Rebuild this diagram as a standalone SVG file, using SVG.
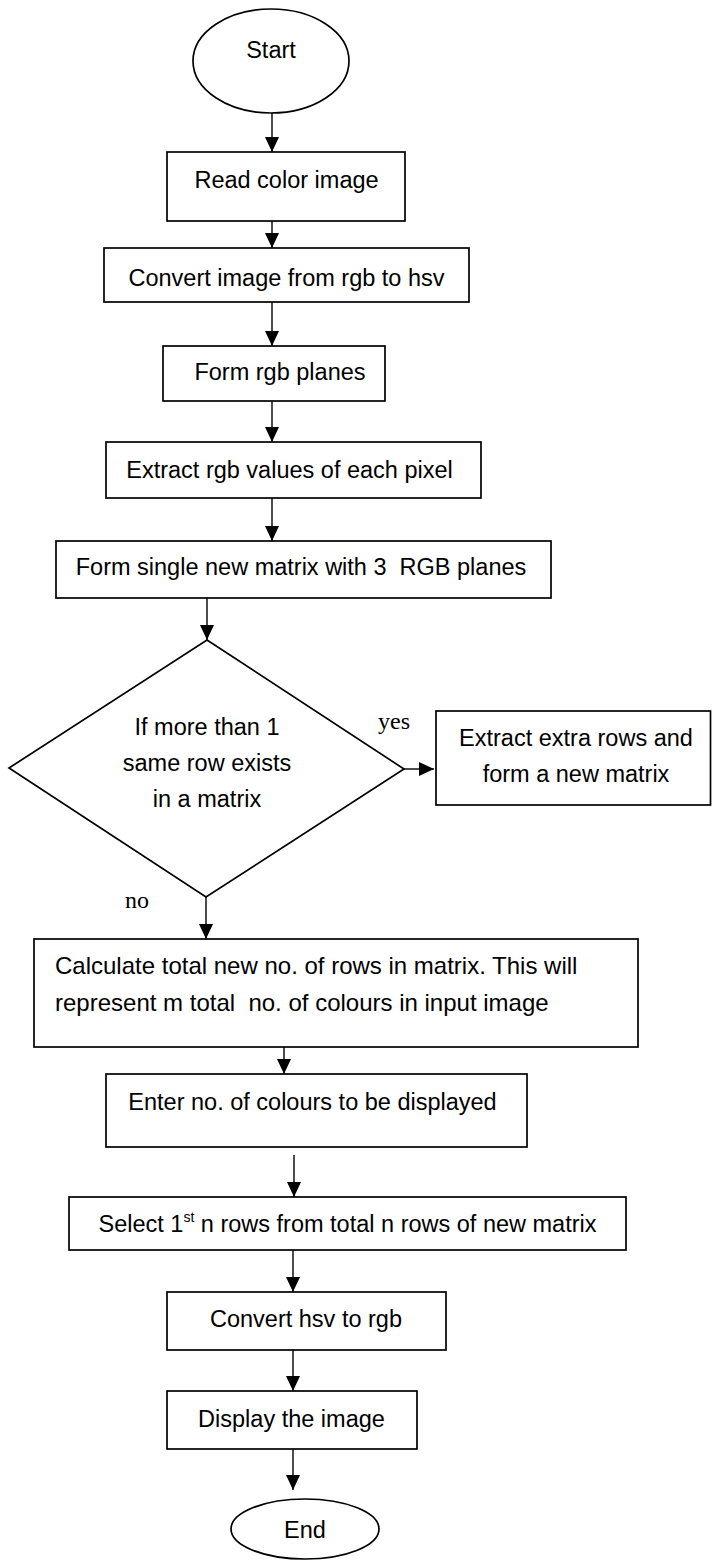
<svg xmlns="http://www.w3.org/2000/svg" width="712" height="1560" viewBox="0 0 712 1560">
<style>
.shape{fill:#fff;stroke:#000;stroke-width:1.7}
.t{font-family:"Liberation Sans",Arial,sans-serif;font-size:23.5px;fill:#000}
.m{text-anchor:middle}
.lbl{font-family:"Liberation Serif","Times New Roman",serif;font-size:24px;fill:#000}
.c{fill:none;stroke:#000;stroke-width:1.4}
</style>
<defs>
<marker id="ah" markerUnits="userSpaceOnUse" markerWidth="15" markerHeight="14" refX="15" refY="7" orient="auto">
<path d="M0,0 L15,7 L0,14 Z" fill="#000"/>
</marker>
</defs>
<rect width="712" height="1560" fill="#fff"/>
<g id="connectors">
<line class="c" x1="272" y1="113" x2="272" y2="152" marker-end="url(#ah)"/>
<line class="c" x1="272" y1="221" x2="272" y2="248" marker-end="url(#ah)"/>
<line class="c" x1="272" y1="302" x2="272" y2="346" marker-end="url(#ah)"/>
<line class="c" x1="272" y1="401" x2="272" y2="442" marker-end="url(#ah)"/>
<line class="c" x1="272" y1="498" x2="272" y2="541" marker-end="url(#ah)"/>
<line class="c" x1="207" y1="598" x2="207" y2="640" marker-end="url(#ah)"/>
<line class="c" x1="404" y1="769" x2="434" y2="769" marker-end="url(#ah)"/>
<line class="c" x1="206" y1="897" x2="206" y2="939" marker-end="url(#ah)"/>
<line class="c" x1="284" y1="1047" x2="284" y2="1074" marker-end="url(#ah)"/>
<line class="c" x1="294" y1="1155" x2="294" y2="1197" marker-end="url(#ah)"/>
<line class="c" x1="293" y1="1250" x2="293" y2="1292" marker-end="url(#ah)"/>
<line class="c" x1="293" y1="1350" x2="293" y2="1391" marker-end="url(#ah)"/>
<line class="c" x1="293" y1="1449" x2="293" y2="1490" marker-end="url(#ah)"/>
<text class="lbl" x="378" y="729">yes</text>
<text class="lbl" x="125" y="908">no</text>
</g>
<g id="start">
<ellipse class="shape" cx="271" cy="61" rx="78" ry="52"/>
<text class="t m" x="271" y="58">Start</text>
</g>
<g id="read">
<rect class="shape" x="167" y="152" width="238" height="69"/>
<text class="t m" x="286.5" y="188">Read color image</text>
</g>
<g id="convert">
<rect class="shape" x="104" y="248" width="365" height="54"/>
<text class="t m" x="286.5" y="286">Convert image from rgb to hsv</text>
</g>
<g id="planes">
<rect class="shape" x="163" y="346" width="222" height="55"/>
<text class="t m" x="280" y="380">Form rgb planes</text>
</g>
<g id="extract">
<rect class="shape" x="106" y="442" width="375" height="56"/>
<text class="t m" x="289.5" y="478">Extract rgb values of each pixel</text>
</g>
<g id="single">
<rect class="shape" x="56" y="541" width="495" height="57"/>
<text class="t m" x="301" y="575" xml:space="preserve">Form single new matrix with 3  RGB planes</text>
</g>
<g id="decision">
<polygon class="shape" points="207,640 404,769 206,897 9,768"/>
<text class="t m" x="207" y="735">If more than 1</text>
<text class="t m" x="207" y="771">same row exists</text>
<text class="t m" x="207" y="807">in a matrix</text>
</g>
<g id="extra">
<rect class="shape" x="436" y="711" width="274.5" height="94"/>
<text class="t m" x="576" y="746">Extract extra rows and</text>
<text class="t m" x="576" y="782">form a new matrix</text>
</g>
<g id="calculate">
<rect class="shape" x="34" y="939" width="604" height="108"/>
<text class="t" x="55" y="974" style="font-size:24px">Calculate total new no. of rows in matrix. This will</text>
<text class="t" x="55" y="1011" style="font-size:24px" xml:space="preserve">represent m total  no. of colours in input image</text>
</g>
<g id="enter">
<rect class="shape" x="106" y="1074" width="421" height="73"/>
<text class="t m" x="312.5" y="1110">Enter no. of colours to be displayed</text>
</g>
<g id="select">
<rect class="shape" x="69" y="1197" width="557" height="53"/>
<text class="t m" x="347.5" y="1232">Select 1<tspan font-size="14" dy="-10">st</tspan><tspan dy="10"> n rows from total n rows of new matrix</tspan></text>
</g>
<g id="hsv2rgb">
<rect class="shape" x="167" y="1292" width="279" height="58"/>
<text class="t m" x="306" y="1327">Convert hsv to rgb</text>
</g>
<g id="display">
<rect class="shape" x="167" y="1391" width="250" height="58"/>
<text class="t m" x="291.5" y="1427">Display the image</text>
</g>
<g id="end">
<ellipse class="shape" cx="305" cy="1529" rx="74" ry="30"/>
<text class="t m" x="305" y="1538">End</text>
</g>
</svg>
